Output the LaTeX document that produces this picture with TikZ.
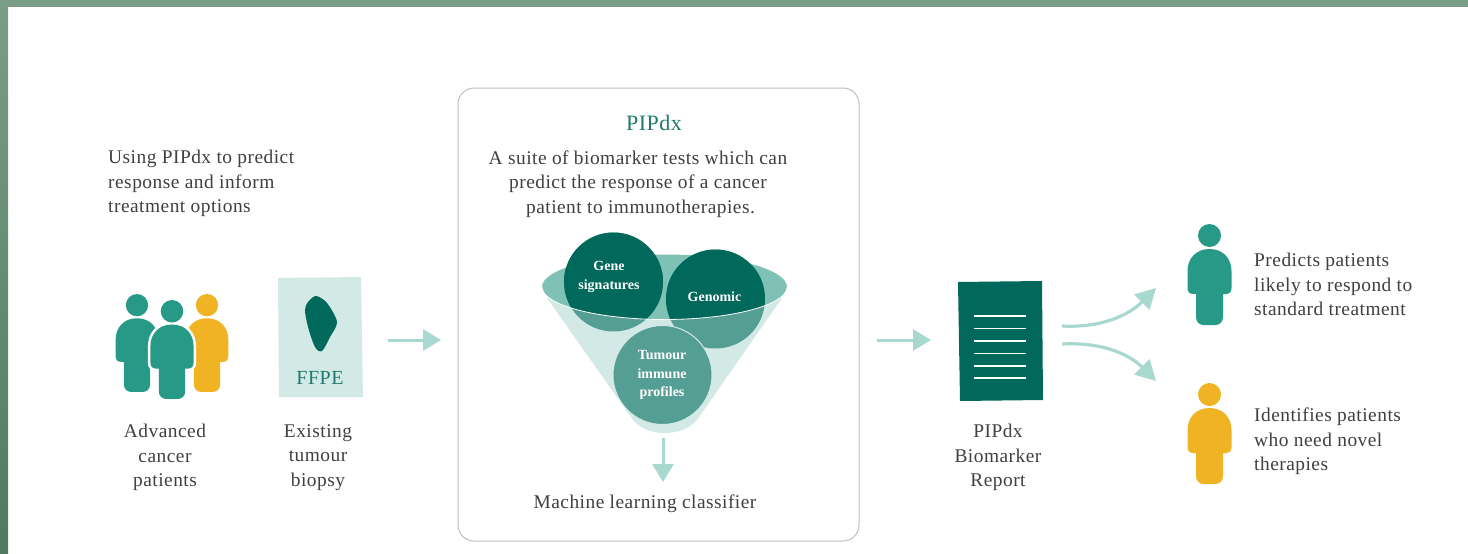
\documentclass[tikz,border=0pt]{standalone}
\usepackage{fontspec}
\setmainfont{Liberation Serif}
\usetikzlibrary{arrows.meta}
\definecolor{frameg}{HTML}{7A9E85}
\definecolor{frameb}{HTML}{4E7A62}
\definecolor{darkt}{HTML}{00695C}
\definecolor{midt}{HTML}{559E94}
\definecolor{teal2}{HTML}{279A87}
\definecolor{ambr}{HTML}{F0B323}
\definecolor{pale}{HTML}{D3E9E5}
\definecolor{rimc}{HTML}{7FC1B5}
\definecolor{arrc}{HTML}{A8D8D0}
\definecolor{txt}{HTML}{404040}
\definecolor{ttl}{HTML}{1E7A6C}
\newfontfamily\bodyfont[LetterSpace=2.5]{Liberation Serif}
\tikzset{
  bodytext/.style={font=\bodyfont\fontsize{19.4}{24.3}\selectfont,text=txt,inner sep=0pt},
  circtext/.style={font=\fontsize{14}{18.5}\selectfont\bfseries,text=white,inner sep=0pt,align=center},
  flow/.style={draw=arrc,line width=3pt,-{Triangle[length=18pt,width=21pt]}},
  flowthin/.style={draw=arrc,line width=3.2pt,-{Triangle[length=20pt,width=21pt]}},
  disc/.style={circle,minimum size=99pt,inner sep=0pt}
}
\newcommand{\drawperson}[5]{%
  \begin{scope}[shift={(#1,#2)},scale=#3]
    \fill[#4] (0,11.5) circle[radius=11.5pt];
    \path[#4,#5] (0,25) .. controls (14,25) and (22,35) .. (22,47) -- (22,64)
      .. controls (22,68) and (20,70) .. (16,70) -- (13.5,70) -- (13.5,93)
      .. controls (13.5,98) and (10,101) .. (6,101) -- (-6,101)
      .. controls (-10,101) and (-13.5,98) .. (-13.5,93) -- (-13.5,70) -- (-16,70)
      .. controls (-20,70) and (-22,68) .. (-22,64) -- (-22,47)
      .. controls (-22,35) and (-14,25) .. (0,25) -- cycle;
  \end{scope}}
\begin{document}
\begin{tikzpicture}[x=1pt,y=-1pt]
\useasboundingbox (0,0) rectangle (1468,554);
\fill[white] (0,0) rectangle (1468,554);
\shade[top color=frameg,bottom color=frameb] (0,0) rectangle (8,554);
\fill[frameg] (0,0) rectangle (1468,7);

% panel
\draw[draw=black!25,line width=1pt,rounded corners=16pt] (458,88) rectangle (859,541);

% intro
\node[bodytext,anchor=west,align=left] (intro) at (108,183.5) {Using PIPdx to predict\\response and inform\\treatment options};

% people group
\drawperson{137}{294}{0.97}{teal2}{fill}
\drawperson{207}{294}{0.97}{ambr}{fill}
\drawperson{172}{300}{0.98}{white}{draw,line width=5pt}
\drawperson{172}{300}{0.98}{teal2}{fill}
\node[bodytext,align=center] (patients) at (165,457.5) {Advanced\\cancer\\patients};

% FFPE
\fill[pale] (278,278) -- (361,277) -- (363,397) -- (279,397) -- cycle;
\fill[darkt] plot[smooth cycle,tension=0.5] coordinates {(316,296) (327,303) (337,322) (330,337) (322,351) (315,347) (308,327) (305,310) (308,302)};
\node[font=\bodyfont\fontsize{20}{22}\selectfont,text=ttl,inner sep=0pt] (ffpe) at (320,378) {FFPE};
\node[bodytext,align=center] (biopsy) at (318,457.5) {Existing\\tumour\\biopsy};

\coordinate (a1s) at (388,340); \coordinate (a1e) at (441,340);
\draw[flow] (a1s) -- (a1e);

% panel text
\node[font=\bodyfont\fontsize{22}{24}\selectfont,text=ttl,inner sep=0pt] (title) at (654,122.5) {PIPdx};
\node[bodytext,align=center] (suite) at (638,184) {A suite of biomarker tests which can\\predict the response of a cancer\\\hspace{5pt}patient to immunotherapies.};

% funnel
\fill[pale] (547,298) -- (633,420) .. controls (642,430) and (654,433) .. (664,433)
  .. controls (676,433) and (688,430) .. (697,420) -- (782,298) -- cycle;
\fill[rimc] (664.5,287) ellipse[x radius=122.5pt,y radius=32.5pt];

\node[disc,fill=midt] (c1) at (613.5,282) {};
\node[disc,fill=midt] (c2) at (715.5,299) {};
\begin{scope}
  \clip (613.5,282) circle[radius=49.5pt];
  \fill[darkt] (664.5,287) ellipse[x radius=122.5pt,y radius=32.5pt];
  \fill[darkt] (540,220) rectangle (790,287);
\end{scope}
\begin{scope}
  \clip (715.5,299) circle[radius=49.5pt];
  \fill[darkt] (664.5,287) ellipse[x radius=122.5pt,y radius=32.5pt];
  \fill[darkt] (540,220) rectangle (790,287);
\end{scope}
\draw[white,line width=0.8pt] plot[domain=180:0,samples=80] ({664.5+122.5*cos(\x)},{287+32.5*sin(\x)});
\node[disc,fill=midt,draw=pale,line width=1pt] (c3) at (662.5,375) {};

\node[circtext] (gene) at (609,277) {Gene\\signatures};
\node[circtext] (genomic) at (714.5,297) {Genomic};
\node[circtext] (tumour) at (662,375) {Tumour\\immune\\profiles};

\coordinate (a2s) at (663,438); \coordinate (a2e) at (663,482);
\draw[flow] (a2s) -- (a2e);
\node[bodytext] (ml) at (645,504) {Machine learning classifier};

\coordinate (a3s) at (877,340); \coordinate (a3e) at (931,340);
\draw[flow] (a3s) -- (a3e);

% report
\fill[darkt] (958,282) -- (1042,281) -- (1043,400) -- (960,401) -- cycle;
\foreach \yy in {316,328.5,341,353.5,366,378}
  \draw[white!90!pale,line width=1.6pt] (974,\yy) -- (1026,\yy);
\node[bodytext,align=center] (report) at (998,457.5) {PIPdx\\Biomarker\\Report};

% branches
\coordinate (b1s) at (1062,326); \coordinate (b1e) at (1156,288);
\coordinate (b2s) at (1062,344); \coordinate (b2e) at (1156,381);
\draw[flowthin] (b1s) .. controls (1100,328) and (1128,316) .. (b1e);
\draw[flowthin] (b2s) .. controls (1100,342) and (1128,353) .. (b2e);

% outcomes
\drawperson{1209.5}{224}{1}{teal2}{fill}
\drawperson{1209.5}{383}{1}{ambr}{fill}
\node[bodytext,anchor=west,align=left] (resp) at (1254,284.5) {Predicts patients\\likely to respond to\\standard treatment};
\node[bodytext,anchor=west,align=left] (novel) at (1254,441.5) {Identifies patients\\who need novel\\therapies};
\end{tikzpicture}
\end{document}
